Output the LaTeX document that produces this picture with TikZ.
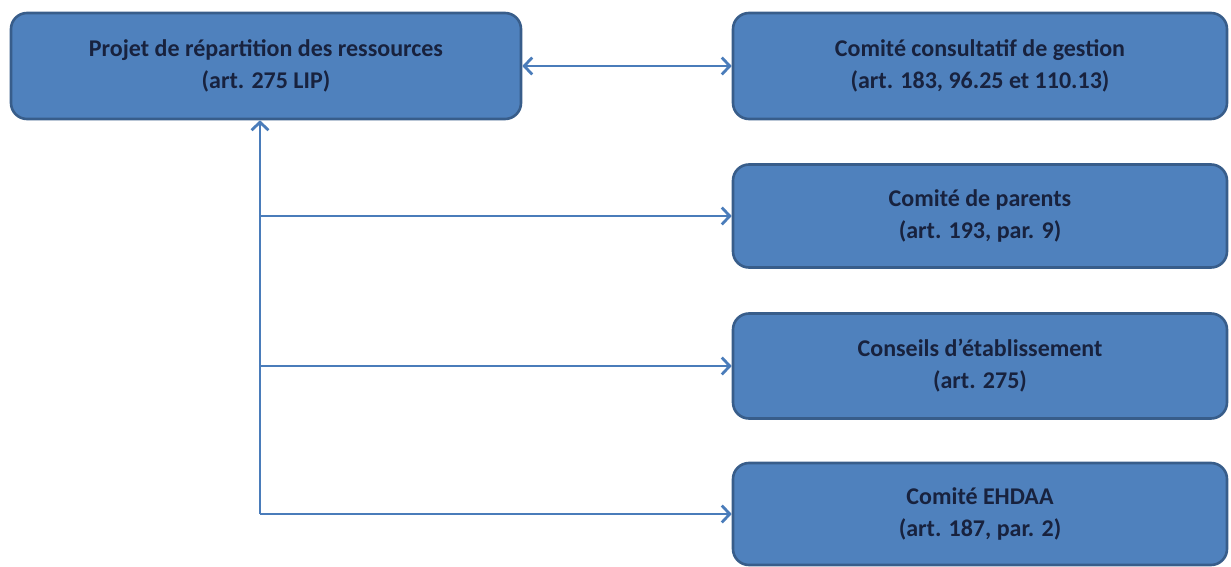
\documentclass[tikz,border=0pt]{standalone}
\usepackage{fontspec}
\setmainfont{Carlito}
\usetikzlibrary{arrows.meta}
\definecolor{boxfill}{RGB}{79,129,189}
\definecolor{boxline}{RGB}{56,93,138}
\definecolor{boxtext}{RGB}{24,34,62}
\definecolor{linkcol}{RGB}{74,124,186}
\begin{document}
\begin{tikzpicture}[x=1pt,y=-1pt,
  box/.style={draw=boxline, line width=2.6pt, fill=boxfill, rounded corners=16pt,
    text=boxtext, align=center, inner sep=0pt,
    font=\bfseries\fontsize{24}{32}\selectfont},
  tip/.style={Straight Barb[length=8pt,width=17pt,line width=2.8pt]},
  link/.style={draw=linkcol, line width=2.8pt, -{Straight Barb[length=8pt,width=17pt]}},
  dlink/.style={draw=linkcol, line width=2.8pt,
    {Straight Barb[length=8pt,width=17pt]}-{Straight Barb[length=8pt,width=17pt]}}]
  \useasboundingbox (0,0) rectangle (1231,567);

  % boxes
  \node[box, minimum width=510pt, minimum height=106pt] (A) at (266,66)
    {Projet de répartition des ressources\\(art. 275 LIP)};
  \node[box, minimum width=494pt, minimum height=106pt] (B) at (980,66)
    {Comité consultatif de gestion\\(art. 183, 96.25 et 110.13)};
  \node[box, minimum width=494pt, minimum height=103pt] (C) at (980,216)
    {Comité de parents\\(art. 193, par. 9)};
  \node[box, minimum width=494pt, minimum height=105pt] (D) at (980,366)
    {Conseils d’établissement\\(art. 275)};
  \node[box, minimum width=494pt, minimum height=102pt] (E) at (980,514)
    {Comité EHDAA\\(art. 187, par. 2)};

  % connectors
  \coordinate (trunk) at (260,514);
  \draw[dlink] (A.east) -- (B.west);
  \draw[link] (trunk) -- (trunk |- A.south);
  \draw[link] (trunk |- C.west) -- (C.west);
  \draw[link] (trunk |- D.west) -- (D.west);
  \draw[link] (trunk) -- (E.west);
\end{tikzpicture}
\end{document}
